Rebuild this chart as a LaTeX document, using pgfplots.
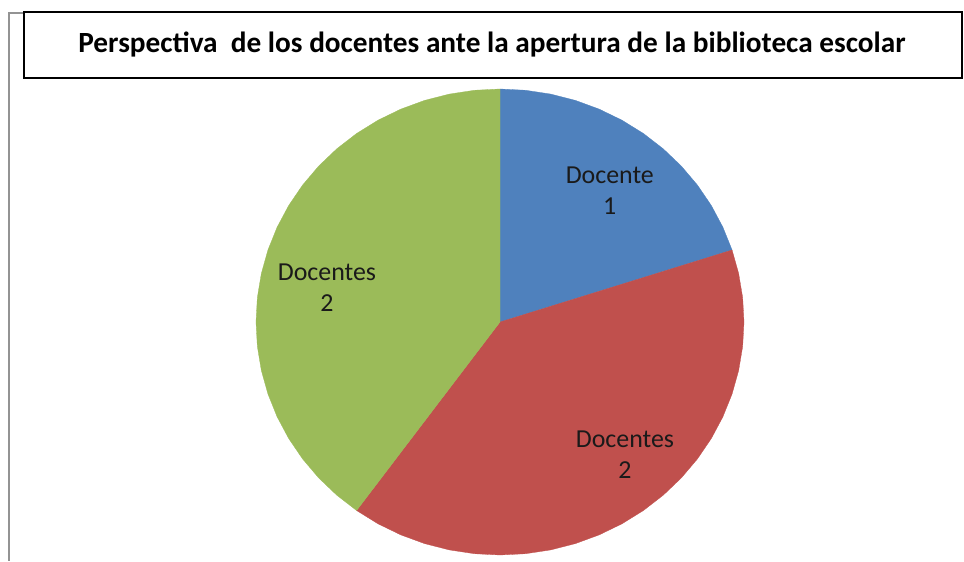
\documentclass[border=0pt]{standalone}
\usepackage{pgfplots}
\pgfplotsset{compat=1.18}
\usepackage{pgfplotstable}
\usepackage{fontspec}
\setmainfont{Carlito}
\definecolor{pblue}{HTML}{4F81BD}
\definecolor{pred}{HTML}{C0504D}
\definecolor{pgreen}{HTML}{9BBB59}
\definecolor{lblack}{HTML}{1A1A1A}
% data: Docente 1, Docentes 2, Docentes 2 (total 5)
\pgfplotstableread{
label value
A 1
B 2
C 2
}\piedata
\begin{document}
\begin{tikzpicture}
\path (0bp,0bp) rectangle (964bp,561bp);
\draw[gray!85, line width=2bp] (24bp,548bp) -- (9bp,548bp) -- (9bp,0bp);
\draw[black, line width=1.8bp, fill=white] (24bp,549bp) rectangle (962bp,483bp);
\node[font=\bfseries\fontsize{29.4}{34}\selectfont, text=black] at (492bp,516bp) {Perspectiva\ \ de los docentes ante la apertura de la biblioteca escolar};
\begin{axis}[at={(500bp,239bp)}, anchor=center, scale only axis, width=488bp, height=466bp,
  xmin=-1, xmax=1, ymin=-1, ymax=1, hide axis, clip=false]
% slice 1 (value 1 of 5): 90 to 18 degrees
\addplot[data cs=polar, fill=pblue, draw=pblue, line width=0.3pt, mark=none] coordinates {
(0,0) (90,1) (84,1) (78,1) (72,1) (66,1) (60,1) (54,1) (48,1) (42,1) (36,1) (30,1) (24,1) (18,1)} -- cycle;
% slice 2 (value 2 of 5): 18 to -126 degrees
\addplot[data cs=polar, fill=pred, draw=pred, line width=0.3pt, mark=none] coordinates {
(0,0) (18,1) (12,1) (6,1) (0,1) (-6,1) (-12,1) (-18,1) (-24,1) (-30,1) (-36,1) (-42,1) (-48,1) (-54,1) (-60,1) (-66,1) (-72,1) (-78,1) (-84,1) (-90,1) (-96,1) (-102,1) (-108,1) (-114,1) (-120,1) (-126,1)} -- cycle;
% slice 3 (value 2 of 5): -126 to -270 degrees
\addplot[data cs=polar, fill=pgreen, draw=pgreen, line width=0.3pt, mark=none] coordinates {
(0,0) (-126,1) (-132,1) (-138,1) (-144,1) (-150,1) (-156,1) (-162,1) (-168,1) (-174,1) (-180,1) (-186,1) (-192,1) (-198,1) (-204,1) (-210,1) (-216,1) (-222,1) (-228,1) (-234,1) (-240,1) (-246,1) (-252,1) (-258,1) (-264,1) (-270,1)} -- cycle;
\node[align=center, font=\fontsize{26}{31}\selectfont, text=lblack] at (axis cs:0.45,0.564) {Docente\\1};
\node[align=center, font=\fontsize{26}{31}\selectfont, text=lblack] at (axis cs:0.512,-0.571) {Docentes\\2};
\node[align=center, font=\fontsize{26}{31}\selectfont, text=lblack] at (axis cs:-0.709,0.146) {Docentes\\2};
\end{axis}
\end{tikzpicture}
\end{document}
